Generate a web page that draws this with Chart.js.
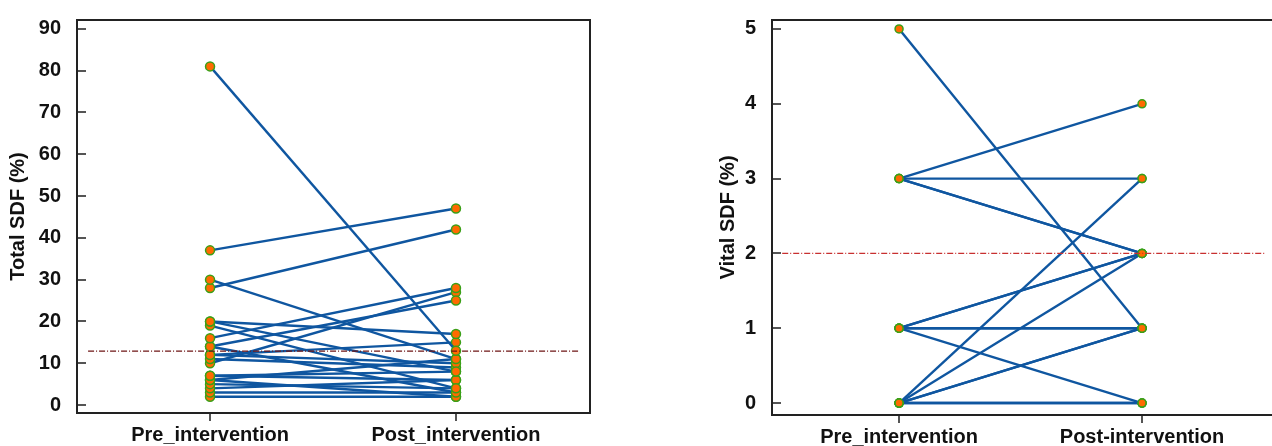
<!DOCTYPE html>
<html>
<head>
<meta charset="utf-8">
<script src="https://cdn.jsdelivr.net/npm/chart.js@4/dist/chart.umd.min.js"></script>
<style>
  html, body { margin: 0; padding: 0; background: #fff; overflow: hidden; }
  .panel { position: absolute; top: 0; }
</style>
</head>
<body>
<div class="panel" style="left:0px"><canvas id="totalChart" width="600" height="446"></canvas></div>
<div class="panel" style="left:680px"><canvas id="vitalChart" width="600" height="446"></canvas></div>
<script>
'use strict';

// Total SDF (%) - one pair per patient
var totalPre  = [81, 37, 30, 28, 20, 20, 19, 16, 14, 14, 12, 12, 11, 10, 7, 7, 6, 6, 5, 4, 3, 2];
var totalPost = [13, 47, 11, 42, 17,  8,  4, 28, 25,  3, 15, 10,  9, 27, 8, 6, 2, 11, 4, 6, 3, 2];
var totalRef = 12.9;
var totalTicks = [0, 10, 20, 30, 40, 50, 60, 70, 80, 90];
var totalLabels = ['Pre_intervention', 'Post_intervention'];

// Vital SDF (%)
var vitalPre  = [5, 3, 3, 3, 3, 1, 1, 1, 1, 1, 0, 0, 0, 0, 0, 0];
var vitalPost = [1, 4, 3, 2, 2, 2, 2, 1, 1, 0, 3, 2, 1, 1, 0, 0];
var vitalRef = 2;
var vitalTicks = [0, 1, 2, 3, 4, 5];
var vitalLabels = ['Pre_intervention', 'Post-intervention'];

var tickFont = { family: "'Liberation Sans', Arial, sans-serif", size: 20, weight: 'bold' };

//Draws the plot frame and inward y tick marks
var frame = {
    id: 'frame',
    afterDraw: function(chart) {
        var ctx = chart.ctx, a = chart.chartArea, y = chart.scales.y;
        ctx.save();
        ctx.strokeStyle = '#555';
        ctx.lineWidth = 2;
        y.ticks.forEach(function(t) {
            var py = Math.round(y.getPixelForValue(t.value));
            ctx.beginPath();
            ctx.moveTo(a.left, py);
            ctx.lineTo(a.left + 9, py);
            ctx.stroke();
        });
        ctx.strokeStyle = '#222';
        ctx.strokeRect(a.left, a.top, a.right - a.left, a.bottom - a.top);
        ctx.restore();
    }
};

function createChart(id, pre, post, ref, cfg) {
    var datasets = [];
    pre.forEach(function(v, i) {
        datasets.push({
            data: [{ x: 0, y: v }, { x: 1, y: post[i] }],
            borderColor: '#0f56a0',
            borderWidth: 2.4,
            pointBackgroundColor: '#ff6a00',
            pointBorderColor: '#3aa018',
            pointBorderWidth: 1.5,
            pointRadius: cfg.radius
        });
    });
    // horizontal reference line
    datasets.unshift({
        data: [{ x: cfg.refFrom, y: ref }, { x: cfg.refTo, y: ref }],
        borderColor: cfg.refColor,
        borderWidth: 1.2,
        borderDash: [6, 2, 1, 2],
        pointRadius: 0
    });

    return new Chart(document.getElementById(id), {
        type: 'line',
        data: { datasets: datasets },
        plugins: [frame],
        options: {
            responsive: false,
            animation: false,
            devicePixelRatio: 1,
            layout: { padding: cfg.padding },
            plugins: { legend: { display: false }, tooltip: { enabled: false } },
            scales: {
                x: {
                    type: 'linear',
                    min: cfg.xMin,
                    max: cfg.xMax,
                    afterBuildTicks: function(s) { s.ticks = [{ value: 0 }, { value: 1 }]; },
                    afterFit: function(s) { s.height = cfg.xHeight; },
                    border: { display: false },
                    grid: { drawOnChartArea: false, tickLength: 8, color: '#555', lineWidth: 2 },
                    ticks: {
                        color: '#111',
                        font: tickFont,
                        padding: 2,
                        maxRotation: 0,
                        callback: function(v) { return cfg.labels[v]; }
                    }
                },
                y: {
                    min: cfg.yMin,
                    max: cfg.yMax,
                    afterBuildTicks: function(s) {
                        s.ticks = cfg.ticks.map(function(t) { return { value: t }; });
                    },
                    afterFit: function(s) { s.width = cfg.yWidth; },
                    border: { display: false },
                    grid: { display: false },
                    ticks: { color: '#111', font: tickFont, padding: 8 },
                    title: {
                        display: true,
                        text: cfg.title,
                        color: '#111',
                        font: { family: tickFont.family, size: 20, weight: 'bold' },
                        padding: { top: cfg.titlePad, bottom: 0 }
                    }
                }
            }
        }
    });
}

createChart('totalChart', totalPre, totalPost, totalRef, {
    radius: 4.5,
    labels: totalLabels,
    ticks: totalTicks,
    title: 'Total SDF (%)',
    titlePad: 6,
    refColor: '#6e1414',
    refFrom: -0.496, refTo: 1.504,
    xMin: -0.541, xMax: 1.545,
    yMin: -1.9, yMax: 92.1,
    xHeight: 33, yWidth: 77,
    padding: { left: 0, top: 15, right: 10, bottom: 0 }
});

createChart('vitalChart', vitalPre, vitalPost, vitalRef, {
    radius: 4,
    labels: vitalLabels,
    ticks: vitalTicks,
    title: 'Vital SDF (%)',
    titlePad: 36,
    refColor: '#c83030',
    refFrom: -0.481, refTo: 1.51,
    xMin: -0.523, xMax: 1.539,
    yMin: -0.16, yMax: 5.12,
    xHeight: 31, yWidth: 92,
    padding: { left: 0, top: 18, right: 7, bottom: 0 }
});
</script>
</body>
</html>
